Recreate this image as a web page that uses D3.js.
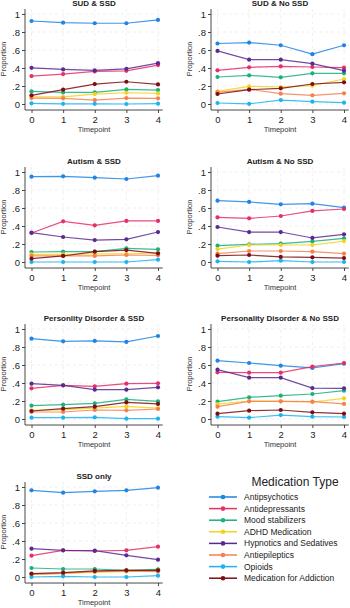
<!DOCTYPE html>
<html>
<head>
<meta charset="utf-8">
<script src="https://cdn.jsdelivr.net/npm/d3@7"></script>
<style>
  body { margin: 0; background: #fff; }
  svg { font-family: "Liberation Sans", Arial, sans-serif; }
  .grid line { stroke: #ebebeb; stroke-dasharray: 3,3; stroke-width: 0.8; }
  .tick text { fill: #222; }
</style>
</head>
<body>
<svg width="350" height="608"></svg>
<script>
// Data
var timepoints = [0, 1, 2, 3, 4];
var medications = ["Antipsychotics", "Antidepressants", "Mood stabilizers", "ADHD Medication",
                   "Hypnotics and Sedatives", "Antiepileptics", "Opioids", "Medication for Addiction"];
var medColors = ["#1f84e3", "#e62e67", "#19b07c", "#f7d21b", "#5a2a90", "#f4804f", "#1db3ee", "#7a0e14"];
var yTicks = [0, 0.2, 0.4, 0.6, 0.8, 1];
var yTickLabels = ["0", ".2", ".4", ".6", ".8", "1"];

// one row per medication, in legend order
var sudSsd = [
  [0.922, 0.904, 0.897, 0.897, 0.934],
  [0.310, 0.332, 0.362, 0.369, 0.432],
  [0.140, 0.129, 0.129, 0.162, 0.155],
  [0.080, 0.080, 0.110, 0.125, 0.118],
  [0.402, 0.384, 0.373, 0.391, 0.454],
  [0.066, 0.063, 0.044, 0.066, 0.063],
  [0.007, 0.002, 0.002, 0.000, 0.004],
  [0.096, 0.159, 0.221, 0.247, 0.218]
];
var sudNoSsd = [
  [0.672, 0.683, 0.653, 0.554, 0.653],
  [0.374, 0.407, 0.419, 0.411, 0.404],
  [0.300, 0.319, 0.296, 0.341, 0.341],
  [0.141, 0.196, 0.189, 0.204, 0.278],
  [0.590, 0.493, 0.493, 0.448, 0.370],
  [0.130, 0.163, 0.115, 0.096, 0.119],
  [0.011, 0.002, 0.044, 0.026, 0.015],
  [0.111, 0.159, 0.174, 0.222, 0.241]
];
var autismSsd = [
  [0.948, 0.952, 0.937, 0.922, 0.959],
  [0.322, 0.452, 0.407, 0.456, 0.456],
  [0.111, 0.115, 0.115, 0.152, 0.141],
  [0.085, 0.085, 0.090, 0.090, 0.100],
  [0.326, 0.278, 0.244, 0.252, 0.333],
  [0.067, 0.067, 0.067, 0.078, 0.074],
  [0.000, 0.000, 0.000, 0.000, 0.026],
  [0.037, 0.067, 0.115, 0.133, 0.096]
];
var autismNoSsd = [
  [0.681, 0.667, 0.641, 0.648, 0.604],
  [0.496, 0.485, 0.511, 0.567, 0.589],
  [0.181, 0.196, 0.204, 0.230, 0.263],
  [0.144, 0.189, 0.189, 0.189, 0.233],
  [0.389, 0.333, 0.333, 0.267, 0.307],
  [0.093, 0.122, 0.122, 0.115, 0.093],
  [0.007, 0.000, 0.015, 0.000, 0.000],
  [0.070, 0.078, 0.056, 0.052, 0.044]
];
var persSsd = [
  [0.893, 0.863, 0.867, 0.856, 0.922],
  [0.341, 0.374, 0.363, 0.393, 0.396],
  [0.148, 0.159, 0.174, 0.219, 0.196],
  [0.095, 0.105, 0.120, 0.140, 0.120],
  [0.393, 0.374, 0.326, 0.326, 0.352],
  [0.078, 0.078, 0.100, 0.096, 0.111],
  [0.015, 0.015, 0.019, 0.004, 0.004],
  [0.089, 0.115, 0.137, 0.185, 0.167]
];
var persNoSsd = [
  [0.648, 0.622, 0.593, 0.567, 0.615],
  [0.519, 0.515, 0.515, 0.581, 0.622],
  [0.193, 0.241, 0.259, 0.278, 0.315],
  [0.165, 0.200, 0.196, 0.189, 0.230],
  [0.548, 0.459, 0.459, 0.344, 0.341],
  [0.137, 0.196, 0.196, 0.193, 0.167],
  [0.026, 0.015, 0.044, 0.026, 0.022],
  [0.059, 0.093, 0.100, 0.074, 0.059]
];
var ssdOnly = [
  [0.963, 0.937, 0.952, 0.963, 0.993],
  [0.237, 0.296, 0.289, 0.296, 0.337],
  [0.100, 0.089, 0.089, 0.074, 0.085],
  [0.030, 0.040, 0.055, 0.060, 0.070],
  [0.315, 0.296, 0.293, 0.241, 0.193],
  [0.030, 0.040, 0.060, 0.067, 0.060],
  [0.000, 0.007, 0.000, 0.000, 0.015],
  [0.037, 0.048, 0.067, 0.074, 0.074]
];

var panels = [
  { title: "SUD & SSD", values: sudSsd },
  { title: "SUD & No SSD", values: sudNoSsd },
  { title: "Autism & SSD", values: autismSsd },
  { title: "Autism & No SSD", values: autismNoSsd },
  { title: "Personlity Disorder & SSD", values: persSsd },
  { title: "Personality Disorder & No SSD", values: persNoSsd },
  { title: "SSD only", values: ssdOnly }
];

var svg = d3.select("svg");

// layout of the small multiples
var colX = [25, 211];          // y-axis line position of each column
var rowTop = [14, 172, 329, 487]; // pixel of y = 1 in each row
var plotH = 90;                 // y = 1 down to y = 0

panels.forEach(function(p, i) {
  var ax = colX[i % 2], top = rowTop[Math.floor(i / 2)];
  var g = svg.append("g");

  var x = d3.scaleLinear().domain([0, 4]).range([ax + 6.5, ax + 133]);
  var y = d3.scaleLinear().domain([0, 1]).range([top + plotH, top]);
  var yBottom = y(-0.067), yTop = y(1.055), xRight = x(4.15);

  // dashed grid
  var grid = g.append("g").attr("class", "grid");
  grid.selectAll("line.h").data(yTicks).enter().append("line")
    .attr("x1", ax).attr("x2", xRight)
    .attr("y1", function(d) { return y(d); }).attr("y2", function(d) { return y(d); });
  grid.selectAll("line.v").data(timepoints).enter().append("line")
    .attr("y1", yTop).attr("y2", yBottom)
    .attr("x1", function(d) { return x(d); }).attr("x2", function(d) { return x(d); });

  // axes
  var yAxis = d3.axisLeft(y).tickValues(yTicks)
    .tickFormat(function(d, k) { return yTickLabels[k]; })
    .tickSize(3).tickPadding(2);
  var ya = g.append("g").attr("transform", "translate(" + ax + ",0)").call(yAxis);
  ya.select(".domain").attr("d", "M0," + yTop + "V" + yBottom);

  var xAxis = d3.axisBottom(x).tickValues(timepoints).tickFormat(d3.format("d"))
    .tickSize(3).tickPadding(3);
  var xa = g.append("g").attr("transform", "translate(0," + yBottom + ")").call(xAxis);
  xa.select(".domain").attr("d", "M" + ax + ",0H" + xRight);

  [ya, xa].forEach(function(a) {
    a.selectAll("text").style("font-size", "9.5px");
    a.selectAll("line, .domain").attr("stroke", "#333").attr("stroke-width", 0.9);
  });

  // labels
  g.append("text").attr("x", ax + 69).attr("y", top - 8)
    .attr("text-anchor", "middle").style("font-size", "8px").style("font-weight", "bold")
    .attr("fill", "#222").text(p.title);
  g.append("text").attr("x", ax + 69).attr("y", top + plotH + 28)
    .attr("text-anchor", "middle").style("font-size", "7.5px").attr("fill", "#333").text("Timepoint");
  g.append("text").attr("transform", "translate(" + (ax - 19) + "," + y(0.5) + ") rotate(-90)")
    .attr("text-anchor", "middle").style("font-size", "7.5px").attr("fill", "#333").text("Proportion");

  // series
  var line = d3.line().x(function(d, k) { return x(timepoints[k]); }).y(function(d) { return y(d); });
  p.values.forEach(function(vals, s) {
    var sg = g.append("g");
    sg.append("path").datum(vals).attr("d", line)
      .attr("fill", "none").attr("stroke", medColors[s]).attr("stroke-width", 1.2).attr("stroke-opacity", 0.85);
    sg.selectAll("circle").data(vals).enter().append("circle")
      .attr("cx", function(d, k) { return x(timepoints[k]); })
      .attr("cy", function(d) { return y(d); })
      .attr("r", 2.1).attr("fill", medColors[s]);
  });
});

// legend
var lg = svg.append("g");
lg.append("text").attr("x", 295).attr("y", 486).attr("text-anchor", "middle")
  .style("font-size", "12px").attr("fill", "#222").text("Medication Type");
var items = lg.selectAll("g.item").data(medications).enter().append("g")
  .attr("transform", function(d, k) { return "translate(0," + (497 + k * 11.6) + ")"; });
items.append("line").attr("x1", 209).attr("x2", 237)
  .attr("stroke", function(d, k) { return medColors[k]; }).attr("stroke-width", 1.5);
items.append("circle").attr("cx", 223).attr("r", 2.3)
  .attr("fill", function(d, k) { return medColors[k]; });
items.append("text").attr("x", 244).attr("dy", "0.35em").style("font-size", "8.5px")
  .attr("fill", "#222").text(function(d) { return d; });
</script>
</body>
</html>
